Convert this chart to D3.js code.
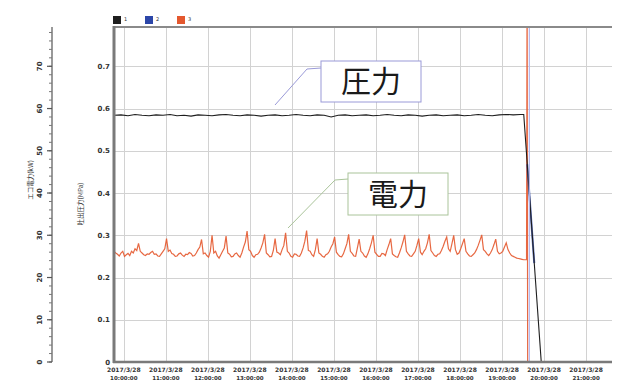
<!DOCTYPE html>
<html>
<head>
<meta charset="utf-8">
<script src="https://cdn.jsdelivr.net/npm/d3@7"></script>
<style>
    body { margin: 0; background: #fff; }
    svg text { font-family: 'DejaVu Sans', sans-serif; fill: #333; }
    svg text.jp { font-family: 'Noto Sans CJK JP', sans-serif; fill: #333; }
</style>
</head>
<body>
<svg id="chart" width="630" height="383"></svg>
<script>
// time in minutes from the first tick, one tick per hour
const tick_times = [0, 60, 120, 180, 240, 300, 360, 420, 480, 540, 600, 660];
const tick_dates = ['2017/3/28', '2017/3/28', '2017/3/28', '2017/3/28', '2017/3/28', '2017/3/28',
    '2017/3/28', '2017/3/28', '2017/3/28', '2017/3/28', '2017/3/28', '2017/3/28'];
const tick_clock = ['10:00:00', '11:00:00', '12:00:00', '13:00:00', '14:00:00', '15:00:00',
    '16:00:00', '17:00:00', '18:00:00', '19:00:00', '20:00:00', '21:00:00'];
const y_ticks = [0, 0.1, 0.2, 0.3, 0.4, 0.5, 0.6, 0.7];
const kw_ticks = [0, 10, 20, 30, 40, 50, 60, 70];

// series 1 : discharge pressure (MPa), sampled every 10 min from -14
const press_start = -14, press_step = 10;
const press_values = [
    0.584, 0.585, 0.583, 0.586, 0.584, 0.583, 0.585, 0.584, 0.586, 0.583,
    0.584, 0.582, 0.585, 0.584, 0.583, 0.585, 0.586, 0.584, 0.583, 0.585,
    0.584, 0.582, 0.584, 0.585, 0.583, 0.584, 0.586, 0.584, 0.583, 0.585,
    0.584, 0.580, 0.584, 0.585, 0.583, 0.584, 0.585, 0.583, 0.584, 0.586,
    0.584, 0.583, 0.585, 0.584, 0.582, 0.584, 0.585, 0.583, 0.584, 0.585,
    0.583, 0.584, 0.586, 0.584, 0.583, 0.585, 0.586, 0.585, 0.586
];
const press_tail_times = [571, 596, 697];
const press_tail_values = [0.586, 0, 0];

// series 2 : visible on the falling edge only
const s2_times = [576, 586];
const s2_values = [0.468, 0.234];

// series 3 : power, shown on the MPa scale (0.1 = 10 kW), every 2.5 min from -14
const power_start = -14, power_step = 2.5;
const power_values = [
    0.262, 0.258, 0.255, 0.251, 0.258, 0.262, 0.250, 0.254, 0.257, 0.252, 0.262, 0.258, 0.268, 0.264, 0.281, 0.262, 0.258, 0.254, 0.252, 0.256,
    0.255, 0.259, 0.262, 0.255, 0.256, 0.251, 0.250, 0.256, 0.262, 0.268, 0.292, 0.262, 0.265, 0.257, 0.255, 0.250, 0.251, 0.256, 0.258, 0.253,
    0.250, 0.255, 0.254, 0.259, 0.257, 0.251, 0.252, 0.258, 0.266, 0.272, 0.290, 0.256, 0.258, 0.252, 0.248, 0.262, 0.300, 0.258, 0.262, 0.251,
    0.246, 0.254, 0.262, 0.270, 0.298, 0.258, 0.255, 0.249, 0.250, 0.256, 0.258, 0.252, 0.248, 0.258, 0.272, 0.284, 0.310, 0.266, 0.262, 0.252,
    0.248, 0.254, 0.255, 0.260, 0.270, 0.282, 0.302, 0.258, 0.254, 0.249, 0.250, 0.264, 0.292, 0.260, 0.258, 0.254, 0.266, 0.276, 0.306, 0.262,
    0.258, 0.250, 0.248, 0.256, 0.255, 0.251, 0.250, 0.258, 0.270, 0.286, 0.311, 0.264, 0.262, 0.254, 0.250, 0.266, 0.292, 0.258, 0.255, 0.250,
    0.248, 0.254, 0.256, 0.262, 0.272, 0.280, 0.296, 0.260, 0.254, 0.250, 0.249, 0.256, 0.268, 0.280, 0.302, 0.262, 0.257, 0.251, 0.250, 0.270,
    0.291, 0.262, 0.258, 0.251, 0.248, 0.256, 0.268, 0.282, 0.300, 0.260, 0.255, 0.250, 0.250, 0.257, 0.256, 0.252, 0.266, 0.278, 0.292, 0.256,
    0.252, 0.249, 0.248, 0.258, 0.270, 0.284, 0.301, 0.262, 0.256, 0.251, 0.250, 0.256, 0.262, 0.276, 0.292, 0.260, 0.254, 0.262, 0.268, 0.282,
    0.302, 0.264, 0.258, 0.252, 0.250, 0.255, 0.256, 0.264, 0.274, 0.286, 0.296, 0.268, 0.262, 0.280, 0.300, 0.266, 0.255, 0.258, 0.268, 0.280,
    0.292, 0.262, 0.256, 0.251, 0.250, 0.254, 0.258, 0.266, 0.276, 0.288, 0.301, 0.266, 0.262, 0.256, 0.252, 0.258, 0.266, 0.278, 0.291, 0.262,
    0.256, 0.258, 0.262, 0.272, 0.282, 0.266, 0.258, 0.252, 0.250, 0.248, 0.246, 0.245, 0.244, 0.243, 0.242
];
const power_tail_times = [575, 575.8, 576.6, 697];
const power_tail_values = [0.242, 0.9, 0, 0];

const cursor_times = [579];

const legend_names = ['1', '2', '3'];
const colors = {'1': '#1e1e1e', '2': '#2c46a8', '3': '#e4582e'};

// -------- chart --------
const svg = d3.select('svg#chart');
const x = d3.scaleLinear().domain([-14, 697]).range([114, 612]);
const y = d3.scaleLinear().domain([0, 0.793]).range([362, 27]);
const ykw = d3.scaleLinear().domain([0, 79.3]).range([362, 27]);

function points(start, step, vals, tail_t, tail_v) {
    let p = vals.map((v, i) => [start + i * step, v]);
    return p.concat(tail_t.map((t, i) => [t, tail_v[i]]));
}

svg.append('clipPath').attr('id', 'plot_clip')
    .append('rect').attr('x', 114).attr('y', 27).attr('width', 498).attr('height', 335);

// grid
const grid = svg.append('g').attr('stroke', '#d2d2d2').attr('stroke-width', 1);
grid.selectAll('line.h').data(y_ticks.slice(1)).enter().append('line')
    .attr('x1', 114).attr('x2', 612)
    .attr('y1', d => Math.round(y(d)) + 0.5).attr('y2', d => Math.round(y(d)) + 0.5);
grid.selectAll('line.v').data(tick_times).enter().append('line')
    .attr('y1', 27).attr('y2', 362)
    .attr('x1', d => Math.round(x(d)) + 0.5).attr('x2', d => Math.round(x(d)) + 0.5);

// series
const line = d3.line().x(d => x(d[0])).y(d => y(d[1]));
const plot = svg.append('g').attr('clip-path', 'url(#plot_clip)');
plot.append('path')
    .datum(points(power_start, power_step, power_values, power_tail_times, power_tail_values))
    .attr('d', line).attr('fill', 'none')
    .attr('stroke', colors['3']).attr('stroke-width', 1.2).attr('stroke-opacity', 0.9);
plot.append('path')
    .datum(s2_times.map((t, i) => [t, s2_values[i]]))
    .attr('d', line).attr('fill', 'none')
    .attr('stroke', colors['2']).attr('stroke-width', 2).attr('stroke-opacity', 0.8);
plot.append('path')
    .datum(points(press_start, press_step, press_values, press_tail_times, press_tail_values))
    .attr('d', line).attr('fill', 'none')
    .attr('stroke', colors['1']).attr('stroke-width', 1.1);
plot.selectAll('line.cursor').data(cursor_times).enter().append('line')
    .attr('x1', d => x(d)).attr('x2', d => x(d)).attr('y1', 27).attr('y2', 362)
    .attr('stroke', '#b4b8ee').attr('stroke-width', 1.2);

// frame
svg.append('line').attr('x1', 113).attr('x2', 612).attr('y1', 27).attr('y2', 27)
    .attr('stroke', '#8a8a8a').attr('stroke-width', 2);
svg.append('line').attr('x1', 114).attr('x2', 114).attr('y1', 26).attr('y2', 363)
    .attr('stroke', '#7a7a7a').attr('stroke-width', 3);
svg.append('line').attr('x1', 113).attr('x2', 612).attr('y1', 362).attr('y2', 362)
    .attr('stroke', '#7a7a7a').attr('stroke-width', 2.5);

// inner y labels
svg.selectAll('text.ylab').data(y_ticks).enter().append('text')
    .attr('x', 110).attr('y', d => y(d) + 2.5)
    .attr('text-anchor', 'end').style('font-size', '7px').style('font-weight', 'bold')
    .text(d => d === 0 ? '0' : d3.format('.1f')(d));

// x labels
const xl = svg.selectAll('g.xlab').data(tick_times).enter().append('g')
    .attr('transform', d => 'translate(' + x(d) + ',0)');
xl.append('text').attr('y', 372).attr('text-anchor', 'middle')
    .style('font-size', '6px').style('font-weight', 'bold').text((d, i) => tick_dates[i]);
xl.append('text').attr('y', 380).attr('text-anchor', 'middle')
    .style('font-size', '5.5px').style('font-weight', 'bold').text((d, i) => tick_clock[i]);

// outer kW axis
const outer = svg.append('g').attr('transform', 'translate(52,0)');
outer.append('line').attr('y1', 27).attr('y2', 362).attr('stroke', '#777').attr('stroke-width', 1.5);
outer.selectAll('line.minor').data(d3.range(0, 80, 2)).enter().append('line')
    .attr('x1', -3).attr('x2', 0).attr('y1', d => ykw(d)).attr('y2', d => ykw(d))
    .attr('stroke', '#777');
outer.selectAll('line.major').data(kw_ticks).enter().append('line')
    .attr('x1', -5).attr('x2', 0).attr('y1', d => ykw(d)).attr('y2', d => ykw(d))
    .attr('stroke', '#555').attr('stroke-width', 1.2);
outer.selectAll('text').data(kw_ticks).enter().append('text')
    .attr('transform', d => 'translate(-12,' + ykw(d) + ') rotate(-90)')
    .attr('text-anchor', 'middle').attr('dy', '0.35em')
    .style('font-size', '7px').style('font-weight', 'bold').text(d => d);

// axis titles
svg.append('text').attr('class', 'jp')
    .attr('transform', 'translate(31,180) rotate(-90)').attr('text-anchor', 'middle')
    .attr('dy', '0.35em').style('font-size', '6.5px').text('エコ電力(kW)');
svg.append('text').attr('class', 'jp')
    .attr('transform', 'translate(81,204) rotate(-90)').attr('text-anchor', 'middle')
    .attr('dy', '0.35em').style('font-size', '6.5px').text('吐出圧力(MPa)');

// legend
const leg = svg.selectAll('g.leg').data(legend_names).enter().append('g')
    .attr('transform', (d, i) => 'translate(' + [113, 145, 177][i] + ',16)');
leg.append('rect').attr('width', 8).attr('height', 8).attr('fill', d => colors[d]);
leg.append('text').attr('x', 11).attr('y', 5).style('font-size', '5px').text(d => d);

// callouts
function callout(label, box, lead, stroke) {
    svg.append('polyline').attr('points', lead.map(p => p.join(',')).join(' '))
        .attr('fill', 'none').attr('stroke', stroke).attr('stroke-width', 1);
    svg.append('rect').attr('x', box[0]).attr('y', box[1]).attr('width', box[2]).attr('height', box[3])
        .attr('fill', '#fff').attr('stroke', stroke).attr('stroke-width', 1);
    svg.append('text').attr('class', 'jp')
        .attr('x', box[0] + box[2] / 2).attr('y', box[1] + box[3] / 2)
        .attr('text-anchor', 'middle').attr('dy', '0.36em')
        .style('font-size', '30px').style('fill', '#1a1a1a').text(label);
}
callout('圧力', [321, 61, 100, 41], [[275, 105], [307, 69], [321, 68]], '#9a9ad8');
callout('電力', [348, 173, 100, 42], [[288, 228], [335, 180], [348, 179]], '#aac49a');
</script>
</body>
</html>
